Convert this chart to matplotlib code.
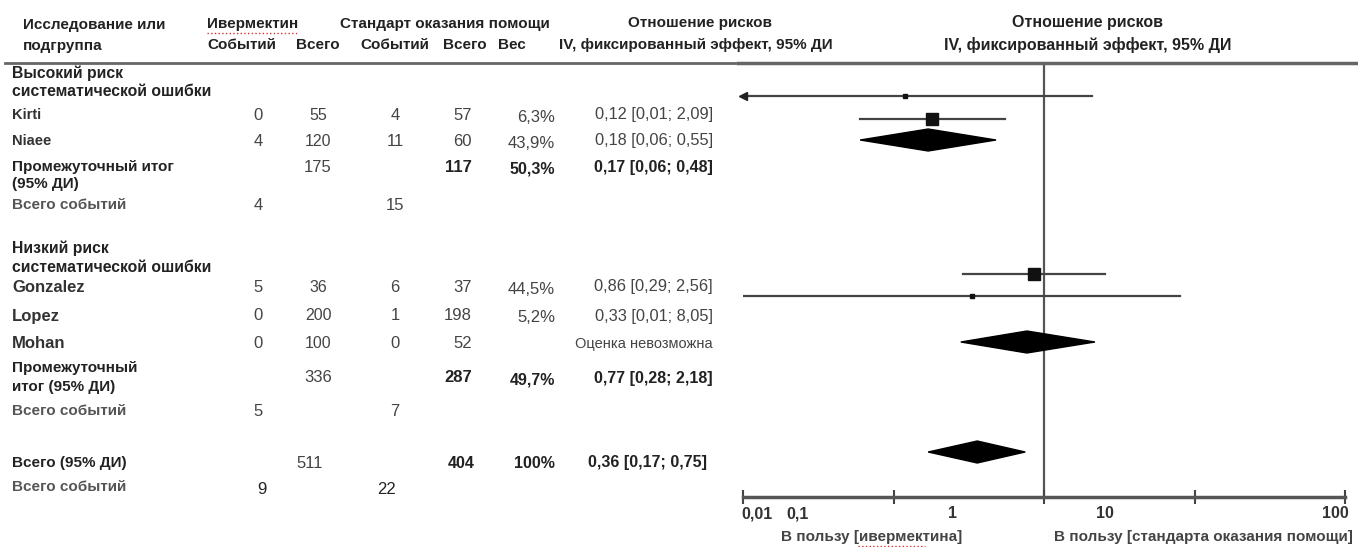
import numpy as np
import matplotlib.pyplot as plt
from matplotlib.lines import Line2D
from matplotlib.patches import Polygon

plt.rcParams['font.family'] = ['Liberation Sans', 'DejaVu Sans']

# данные по исследованиям
studies = ['Kirti', 'Niaee', 'Gonzalez', 'Lopez', 'Mohan']
iv_events = [0, 4, 5, 0, 0]
iv_total = [55, 120, 36, 200, 100]
soc_events = [4, 11, 6, 1, 0]
soc_total = [57, 60, 37, 198, 52]
weights = [6.3, 43.9, 44.5, 5.2, None]
rr = [0.12, 0.18, 0.86, 0.33, None]
rr_lo = [0.01, 0.06, 0.29, 0.01, None]
rr_hi = [2.09, 0.55, 2.56, 8.05, None]

# подгруппы (высокий / низкий риск)
sub_iv_total = [175, 336]
sub_soc_total = [117, 287]
sub_iv_events = [4, 5]
sub_soc_events = [15, 7]
sub_weights = [50.3, 49.7]
sub_rr = [0.17, 0.77]
sub_lo = [0.06, 0.28]
sub_hi = [0.48, 2.18]

# итог
tot_iv_total = 511
tot_soc_total = 404
tot_iv_events = 9
tot_soc_events = 22
tot_weight = 100
tot_rr = 0.36
tot_lo = 0.17
tot_hi = 0.75

tick_values = [0.01, 0.1, 1, 10, 100]
tick_labels = ['0,01', '0,1', '1', '10', '100']

W, H = 1358, 547
fig = plt.figure(figsize=(W / 100, H / 100), dpi=100)


def fx(x):
    return x / W


def fy(y):
    return 1 - y / H


def put(x, y, s, ha='left', size=11, bold=False, color='#222222', **kw):
    fig.text(fx(x), fy(y), s, ha=ha, va='center', fontsize=size,
             fontweight='bold' if bold else 'normal', color=color, **kw)


def num(v, d=2):
    return f'{v:.{d}f}'.replace('.', ',')


def ci_text(r, lo, hi):
    return f'{num(r)} [{num(lo)}; {num(hi)}]'


def pct(w):
    if w == 100:
        return '100%'
    return num(w, 1) + '%'


narrow = ['Liberation Sans Narrow', 'Liberation Sans', 'DejaVu Sans']

# шапка таблицы
put(23, 25, 'Исследование или', bold=True)
put(23, 46, 'подгруппа', bold=True)
put(207, 24, 'Ивермектин', bold=True)
put(340, 24, 'Стандарт оказания помощи', bold=True)
put(700, 23, 'Отношение рисков', ha='center', bold=True)
put(207, 45, 'Событий', bold=True)
put(296, 45, 'Всего', bold=True)
put(360, 45, 'Событий', bold=True)
put(443, 45, 'Всего', bold=True)
put(498, 45, 'Вес', bold=True)
put(559, 45, 'IV, фиксированный эффект, 95% ДИ', bold=True)
put(1088, 22, 'Отношение рисков', ha='center', size=11.5, bold=True, family=narrow)
put(1088, 45, 'IV, фиксированный эффект, 95% ДИ', ha='center', size=11.5, bold=True, family=narrow)

# красное подчёркивание проверки орфографии
fig.add_artist(Line2D([fx(207), fx(298)], [fy(33), fy(33)], color='#e03030', lw=1, ls=':'))
fig.add_artist(Line2D([fx(858), fx(925)], [fy(546), fy(546)], color='#e03030', lw=1, ls=':'))

# линии под шапкой
fig.add_artist(Line2D([fx(5), fx(735)], [fy(63), fy(63)], color='#666666', lw=2))
fig.add_artist(Line2D([fx(738), fx(1358)], [fy(63), fy(63)], color='#666666', lw=2.5))

# колонки таблицы
x_iv_ev, x_iv_tot, x_soc_ev, x_soc_tot, x_w, x_ci = 258, 318, 395, 472, 555, 713
gray = '#444444'

put(12, 73, 'Высокий риск', size=11.3, bold=True)
put(12, 92, 'систематической ошибки', size=11.3, bold=True)
put(12, 248, 'Низкий риск', size=11.3, bold=True)
put(12, 267, 'систематической ошибки', size=11.3, bold=True)

row_y = [115, 141, 287, 316, 344]
name_size = [10.5, 10.5, 12, 12, 12]
for i, name in enumerate(studies):
    y = row_y[i]
    put(12, y, name, size=name_size[i], bold=True, color='#333333')
    put(x_iv_ev, y, str(iv_events[i]), ha='center', size=12, color=gray)
    put(x_iv_tot, y, str(iv_total[i]), ha='center', size=11.5, color=gray)
    put(x_soc_ev, y, str(soc_events[i]), ha='center', size=12, color=gray)
    put(x_soc_tot, y, str(soc_total[i]), ha='right', size=12, color=gray)
    if weights[i] is None:
        put(x_ci, y, 'Оценка невозможна', ha='right', size=10.5, color=gray)
    else:
        put(x_w, y + 2, pct(weights[i]), ha='right', size=12, color=gray)
        put(x_ci, y, ci_text(rr[i], rr_lo[i], rr_hi[i]), ha='right', size=11.8, color=gray)

sub_label_y = [(167, 184), (368, 387)]
sub_label = [('Промежуточный итог', '(95% ДИ)'), ('Промежуточный', 'итог (95% ДИ)')]
sub_num_y = [167, 378]
sub_ev_y = [205, 411]
for k in range(2):
    put(12, sub_label_y[k][0], sub_label[k][0], bold=True)
    put(12, sub_label_y[k][1], sub_label[k][1], bold=True)
    y = sub_num_y[k]
    put(x_iv_tot, y, str(sub_iv_total[k]), ha='center', size=12, color=gray)
    put(x_soc_tot, y, str(sub_soc_total[k]), ha='right', size=12, bold=True)
    put(x_w, y + 2, pct(sub_weights[k]), ha='right', size=11.5, bold=True)
    put(x_ci, y, ci_text(sub_rr[k], sub_lo[k], sub_hi[k]), ha='right', size=11.5, bold=True)
    put(12, sub_ev_y[k], 'Всего событий', bold=True, color='#555555')
    put(x_iv_ev, sub_ev_y[k], str(sub_iv_events[k]), ha='center', size=12, color=gray)
    put(x_soc_ev, sub_ev_y[k], str(sub_soc_events[k]), ha='center', size=12, color=gray)

put(12, 463, 'Всего (95% ДИ)', bold=True)
put(x_iv_tot - 8, 463, str(tot_iv_total), ha='center', size=12, color=gray)
put(x_soc_tot + 3, 463, str(tot_soc_total), ha='right', size=11.5, bold=True)
put(x_w, 463, pct(tot_weight), ha='right', size=11.5, bold=True)
put(707, 463, ci_text(tot_rr, tot_lo, tot_hi), ha='right', size=11.5, bold=True)
put(12, 487, 'Всего событий', bold=True, color='#555555')
put(262, 489, str(tot_iv_events), ha='center', size=12, color='#222222')
put(386, 489, str(tot_soc_events), ha='center', size=12, color='#222222')

# лесной график
ax = fig.add_axes([fx(743), fy(497), (1345 - 743) / W, (497 - 63) / H])
ax.set_xscale('log')
ax.set_xlim(0.01, 100)
ax.set_ylim(497, 63)
ax.patch.set_alpha(0)
for s in ['top', 'left', 'right']:
    ax.spines[s].set_visible(False)
ax.spines['bottom'].set_color('#555555')
ax.spines['bottom'].set_linewidth(2.5)
ax.set_yticks([])
ax.set_xticks(tick_values)
ax.set_xticklabels([''] * len(tick_values))
ax.minorticks_off()
ax.tick_params(axis='x', direction='inout', length=10, width=1.5, color='#444444')
ax.axvline(1, color='#555555', lw=1.6, zorder=1)

plot_y = [96, 119, 274, 296]
for i in range(4):
    y = plot_y[i]
    ax.plot([rr_lo[i], rr_hi[i]], [y, y], color='#444444', lw=1.6, zorder=2)
    ax.plot(rr[i], y, marker='s', ms=1.3 * np.sqrt(weights[i]), color='#111111',
            mec='#111111', zorder=3)
# стрелка для интервала за пределами шкалы
ax.plot(rr_lo[0], plot_y[0], marker='<', ms=6, color='#222222', clip_on=False, zorder=3)

diamond_y = [140, 342]
for k in range(2):
    y = diamond_y[k]
    ax.add_patch(Polygon([[sub_lo[k], y], [sub_rr[k], y - 11], [sub_hi[k], y],
                          [sub_rr[k], y + 11]], closed=True, color='black', zorder=4))
ax.add_patch(Polygon([[tot_lo, 452], [tot_rr, 441], [tot_hi, 452], [tot_rr, 463]],
                     closed=True, color='black', zorder=4))

# подписи шкалы
label_x = [757, 798, 953, 1105, 1335]
for lx, lab in zip(label_x, tick_labels):
    put(lx, 514, lab, ha='center', size=11.5, bold=True, color='#333333')
put(872, 537, 'В пользу [ивермектина]', ha='center', size=11, bold=True, color='#444444', family=narrow)
put(1203, 537, 'В пользу [стандарта оказания помощи]', ha='center', size=11, bold=True, color='#444444', family=narrow)

fig.savefig('out.png', dpi=100)
